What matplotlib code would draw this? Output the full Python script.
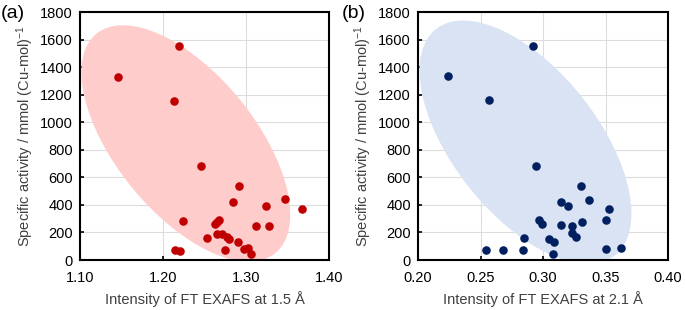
import matplotlib
matplotlib.use("Agg")
import matplotlib.pyplot as plt
from matplotlib.patches import Ellipse

plt.rcParams['font.family'] = ['Liberation Sans', 'DejaVu Sans']
plt.rcParams['mathtext.fontset'] = 'custom'
plt.rcParams['mathtext.rm'] = 'Liberation Sans'

# Panel (a): intensity at 1.5 A vs specific activity
x_a = [1.146, 1.219, 1.213, 1.246, 1.292, 1.284, 1.347, 1.367, 1.324, 1.224,
       1.312, 1.328, 1.268, 1.265, 1.263, 1.265, 1.271, 1.277, 1.280, 1.253,
       1.290, 1.275, 1.297, 1.303, 1.306, 1.214, 1.221]
y_a = [1330, 1555, 1155, 680, 540, 420, 440, 370, 395, 285,
       250, 245, 290, 275, 260, 190, 190, 165, 150, 160,
       130, 75, 80, 90, 45, 75, 68]

# Panel (b): intensity at 2.1 A vs specific activity
x_b = [0.224, 0.292, 0.257, 0.294, 0.330, 0.314, 0.320, 0.337, 0.353, 0.297,
       0.299, 0.314, 0.323, 0.331, 0.350, 0.323, 0.326, 0.285, 0.305, 0.309,
       0.254, 0.268, 0.284, 0.308, 0.350, 0.362]
y_b = [1335, 1556, 1160, 680, 540, 420, 395, 435, 370, 290,
       260, 255, 250, 275, 290, 195, 170, 160, 150, 130,
       70, 75, 75, 45, 80, 90]

y_ticks = [0, 200, 400, 600, 800, 1000, 1200, 1400, 1600, 1800]
xt_a = [1.10, 1.20, 1.30, 1.40]
xt_b = [0.20, 0.25, 0.30, 0.35, 0.40]

fig = plt.figure(figsize=(6.85, 3.10), dpi=100)
W, H = 685, 310

def make_ax(left_px, right_px):
    top_px, bot_px = 12, 260
    return fig.add_axes([left_px / W, (H - bot_px) / H,
                         (right_px - left_px) / W, (bot_px - top_px) / H])

axA = make_ax(80, 329)
axB = make_ax(418, 668)

panels = [
    (axA, x_a, y_a, xt_a, '{:.2f}', '#ffcccc', '#c00000',
     'Intensity of FT EXAFS at 1.5 Å', (0.425, 0.47, 1.14, 0.56, -51)),
    (axB, x_b, y_b, xt_b, '{:.2f}', '#dae3f3', '#002060',
     'Intensity of FT EXAFS at 2.1 Å', (0.43, 0.475, 1.16, 0.58, -52)),
]

FS = 10.5
for ax, xs, ys, xt, fmt, ecol, pcol, xlabel, ell in panels:
    cx, cy, w, h, ang = ell
    e = Ellipse((cx, cy), w, h, angle=ang, transform=ax.transAxes,
                facecolor=ecol, edgecolor='none', zorder=1)
    ax.add_patch(e)
    ax.scatter(xs, ys, s=38, color=pcol, zorder=3, linewidths=0)
    ax.set_xlim(xt[0], xt[-1])
    ax.set_ylim(0, 1800)
    ax.set_xticks(xt)
    ax.set_xticklabels([fmt.format(v) for v in xt])
    ax.set_yticks(y_ticks)
    ax.grid(True, color='#dcdcdc', linewidth=0.8, zorder=0)
    ax.set_axisbelow(True)
    for sp in ax.spines.values():
        sp.set_linewidth(1.5)
        sp.set_color('black')
    ax.tick_params(direction='in', length=3, width=1.2, labelsize=FS,
                   colors='black', pad=5)
    ax.tick_params(axis='x', pad=8)
    ax.set_xlabel(xlabel, fontsize=FS, color='#404040', labelpad=4)
    ax.set_ylabel('Specific activity / mmol (Cu-mol)$\\mathregular{^{-1}}$',
                  fontsize=FS, color='#404040', labelpad=3)

fig.text(1 / W, 1 - 13 / H, '(a)', fontsize=14, va='center', ha='left')
fig.text(342 / W, 1 - 13 / H, '(b)', fontsize=14, va='center', ha='left')

fig.savefig('out.png', dpi=100)
